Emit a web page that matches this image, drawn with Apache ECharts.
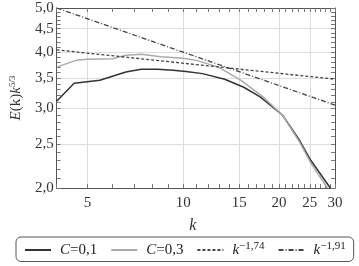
<!DOCTYPE html>
<html>
<head>
<meta charset="utf-8">
<script src="https://cdn.jsdelivr.net/npm/echarts@6/dist/echarts.min.js"></script>
<style>
html, body { margin: 0; padding: 0; background: #fff; }
#main { width: 359px; height: 266px; }
</style>
</head>
<body>
<div id="main"></div>
<script>
// spectra
var kC01 = [4, 4.54, 5.47, 6.6, 7.38, 8.3, 9.3, 10.2, 11.5, 13.5, 15.5, 17.45, 20.5, 23.2, 25.2, 29.0];
var eC01 = [3.11, 3.41, 3.46, 3.61, 3.66, 3.66, 3.64, 3.62, 3.58, 3.48, 3.34, 3.18, 2.90, 2.55, 2.30, 2.0];
var kC03 = [4, 4.6, 5, 6, 6.6, 7.4, 8.5, 10, 11, 12.9, 15.2, 17.8, 20.5, 23.2, 25.2, 28.4];
var eC03 = [3.70, 3.83, 3.85, 3.86, 3.93, 3.95, 3.90, 3.87, 3.83, 3.70, 3.46, 3.18, 2.90, 2.53, 2.27, 2.0];
var kFit = [4, 30];
var eFit174 = [4.04, 3.48];
var eFit191 = [5.0, 3.05];

var xLabels = [5, 10, 15, 20, 25, 30];
var xGrid = [5, 10, 15, 20, 25];
var xMinor = [];
for (var i = 4; i <= 30; i++) xMinor.push(i);
var yLabels = [2, 2.5, 3, 3.5, 4, 4.5, 5];
var yGrid = [2.5, 3, 3.5, 4, 4.5];
var yMinor = [];
for (var j = 20; j <= 50; j++) yMinor.push(j / 10);

function pairs(xs, ys) {
  var out = [];
  for (var i = 0; i < xs.length; i++) out.push([xs[i], ys[i]]);
  return out;
}

var serif = "Liberation Serif";
var frame = { show: true, lineStyle: { color: "#555", width: 1 } };
var minorTick = function (vals) {
  return { show: true, inside: true, length: 4, customValues: vals, lineStyle: { color: "#777" } };
};

var chart = echarts.init(document.getElementById("main"));
chart.setOption({
  animation: false,
  textStyle: { fontFamily: serif },
  grid: { left: 47, right: 24, top: 8, bottom: 78 },
  xAxis: [
    {
      type: "log", min: 4, max: 30, position: "bottom",
      axisLine: frame,
      axisTick: minorTick(xMinor),
      axisLabel: { customValues: xLabels, color: "#333", fontSize: 15, fontFamily: serif, margin: 8 },
      splitLine: { show: false },
      name: "k", nameLocation: "middle", nameGap: 30,
      nameTextStyle: { fontStyle: "italic", fontSize: 16, color: "#333", fontFamily: serif, padding: [0, 0, 0, -6] }
    },
    {
      type: "log", min: 4, max: 30, position: "top",
      axisLine: frame,
      axisTick: minorTick(xMinor),
      axisLabel: { show: false },
      splitLine: { show: false }
    },
    {
      type: "log", min: 4, max: 30, position: "bottom",
      axisLine: { show: false },
      axisTick: { show: false, customValues: xGrid },
      axisLabel: { show: false },
      splitLine: { show: true, lineStyle: { color: "#ddd", width: 1 } }
    }
  ],
  yAxis: [
    {
      type: "log", min: 2, max: 5, position: "left",
      axisLine: frame,
      axisTick: minorTick(yMinor),
      axisLabel: {
        customValues: yLabels, color: "#333", fontSize: 15, fontFamily: serif, margin: 3,
        formatter: function (v) { return v.toFixed(1).replace(".", ","); }
      },
      splitLine: { show: false },
      name: "{i|E}(k){i|k}{s|5/3}", nameLocation: "middle", nameGap: 28, nameRotate: 90,
      nameTextStyle: {
        color: "#333", fontSize: 15, fontFamily: serif,
        rich: {
          i: { fontStyle: "italic", fontSize: 15, fontFamily: serif, color: "#333" },
          s: { fontSize: 9, fontFamily: serif, color: "#333", verticalAlign: "top", padding: [0, 0, 8, 0] }
        }
      }
    },
    {
      type: "log", min: 2, max: 5, position: "right",
      axisLine: frame,
      axisTick: minorTick(yMinor),
      axisLabel: { show: false },
      splitLine: { show: false }
    },
    {
      type: "log", min: 2, max: 5, position: "left",
      axisLine: { show: false },
      axisTick: { show: false, customValues: yGrid },
      axisLabel: { show: false },
      splitLine: { show: true, lineStyle: { color: "#ddd", width: 1 } }
    }
  ],
  legend: {
    left: 16, top: 237,
    padding: [4, 8], itemGap: 13, itemWidth: 26, itemHeight: 12,
    borderColor: "#555", borderWidth: 1, borderRadius: 5,
    itemStyle: { opacity: 0 },
    textStyle: {
      fontSize: 15, fontFamily: serif, color: "#222", padding: [0, 0, 0, 4],
      rich: {
        i: { fontStyle: "italic", fontSize: 15, fontFamily: serif, color: "#222" },
        s: { fontSize: 11, fontFamily: serif, color: "#222", verticalAlign: "top", padding: [0, 0, 7, 0] }
      }
    },
    formatter: function (name) {
      if (name === "C01") return "{i|C}=0,1";
      if (name === "C03") return "{i|C}=0,3";
      if (name === "F174") return "{i|k}{s|\u22121,74}";
      return "{i|k}{s|\u22121,91}";
    }
  },
  series: [
    {
      name: "C01", type: "line", symbol: "none",
      data: pairs(kC01, eC01),
      lineStyle: { color: "#333", width: 1.5 }, itemStyle: { color: "#333" }
    },
    {
      name: "C03", type: "line", symbol: "none",
      data: pairs(kC03, eC03),
      lineStyle: { color: "#aaa", width: 1.5 }, itemStyle: { color: "#aaa" }
    },
    {
      name: "F174", type: "line", symbol: "none",
      data: pairs(kFit, eFit174),
      lineStyle: { color: "#444", width: 1.3, type: [3, 2] }, itemStyle: { color: "#444" }
    },
    {
      name: "F191", type: "line", symbol: "none",
      data: pairs(kFit, eFit191),
      lineStyle: { color: "#444", width: 1.3, type: [5, 2, 1, 2] }, itemStyle: { color: "#444" }
    }
  ]
});
</script>
</body>
</html>
